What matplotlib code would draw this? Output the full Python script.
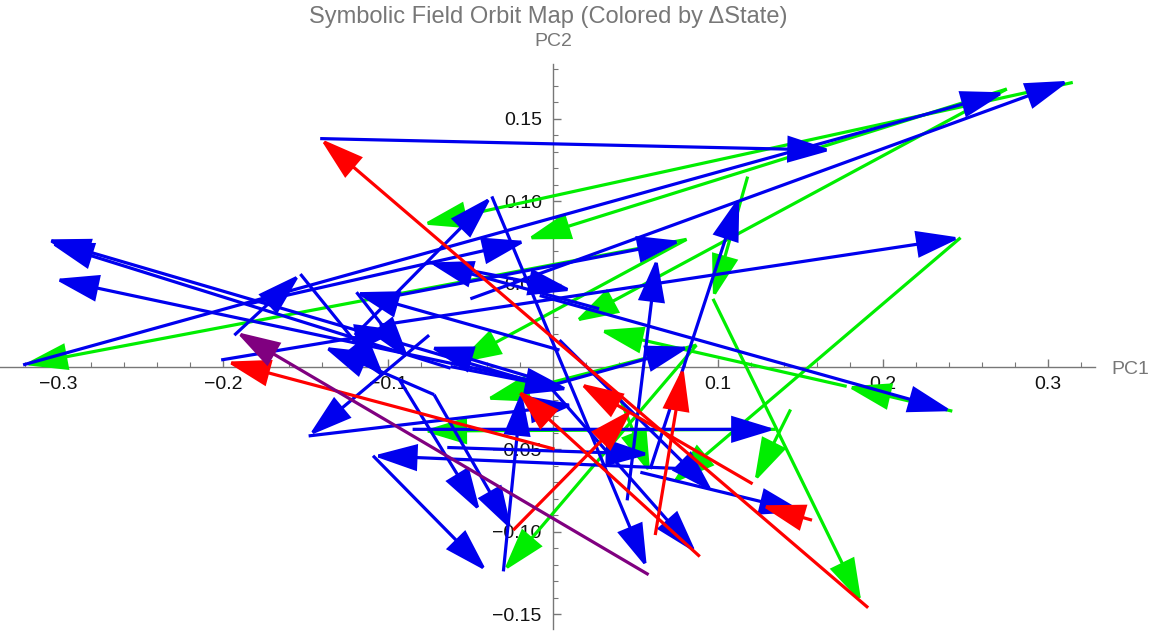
import matplotlib
matplotlib.use("Agg")
import matplotlib.pyplot as plt
import numpy as np
from matplotlib.patches import FancyArrowPatch
from matplotlib.ticker import FixedLocator

# ---------------- data (PC1, PC2 start -> end) ----------------
blue_x0 = [-0.141, -0.321, -0.050, -0.105, -0.184, -0.105, 0.045, 0.059, -0.037, -0.120,
           -0.193, -0.153, -0.020, -0.062, 0.004, -0.201, -0.075, -0.148, 0.083, -0.109,
           -0.093, -0.072, -0.030, -0.085, -0.064, 0.053, 0.028, -0.075, -0.008, -0.014,
           0.004, -0.008, -0.072, -0.003, 0.004, -0.062, -0.119]
blue_y0 = [0.138, 0.001, 0.041, 0.025, 0.038, 0.041, -0.081, -0.062, 0.103, 0.019,
           0.019, 0.056, -0.007, -0.001, -0.012, 0.004, 0.019, -0.042, -0.062, -0.054,
           -0.008, -0.017, -0.124, -0.038, -0.049, -0.064, 0.035, 0.063, 0.043, -0.015,
           0.010, -0.008, -0.017, -0.011, 0.016, 0.000, 0.045]
blue_x1 = [0.169, 0.274, 0.313, 0.247, -0.016, 0.078, 0.063, 0.113, 0.057, -0.037,
           -0.153, -0.102, -0.307, -0.305, -0.302, -0.093, -0.148, 0.013, -0.109, -0.040,
           -0.044, -0.025, -0.019, 0.135, 0.059, 0.152, -0.075, 0.012, 0.242, 0.083,
           -0.120, -0.075, -0.139, 0.087, 0.097, 0.010, -0.087]
blue_y1 = [0.131, 0.166, 0.173, 0.078, 0.076, 0.076, 0.066, 0.103, -0.122, 0.103,
           0.056, -0.007, 0.077, 0.075, 0.053, 0.022, -0.042, -0.023, -0.054, -0.124,
           -0.088, -0.099, -0.015, -0.038, -0.053, -0.088, 0.063, 0.046, -0.027, 0.012,
           0.045, 0.012, 0.012, -0.113, -0.076, -0.014, 0.004]

green_x0 = [0.315, 0.275, 0.118, 0.097, 0.247, 0.081, 0.275, 0.242, 0.178, 0.087,
            0.135, 0.041, 0.144, 0.087, 0.081]
green_y0 = [0.172, 0.168, 0.115, 0.041, 0.078, 0.077, 0.168, -0.027, -0.012, 0.013,
            -0.038, -0.020, -0.026, 0.013, 0.077]
green_x1 = [-0.079, -0.016, 0.097, 0.187, 0.072, -0.321, 0.013, 0.178, 0.028, -0.030,
            -0.079, 0.059, 0.122, -0.041, -0.058]
green_y1 = [0.086, 0.077, 0.041, -0.143, -0.071, 0.001, 0.027, -0.012, 0.022, -0.124,
            -0.039, -0.065, -0.070, -0.020, 0.002]

red_x0 = [0.191, 0.089, 0.121, 0.062, -0.024, 0.001, 0.157]
red_y0 = [-0.146, -0.115, -0.071, -0.102, -0.099, -0.050, -0.093]
red_x1 = [-0.141, -0.022, 0.016, 0.079, 0.048, -0.198, 0.126]
red_y1 = [0.138, -0.014, -0.010, 0.000, -0.026, 0.003, -0.084]

purple_x0 = [0.058]
purple_y0 = [-0.126]
purple_x1 = [-0.192]
purple_y1 = [0.021]

x_ticks = [-0.3, -0.2, -0.1, 0.1, 0.2, 0.3]
x_tick_labels = ["\u22120.3", "\u22120.2", "\u22120.1", "0.1", "0.2", "0.3"]
y_ticks = [-0.15, -0.10, -0.05, 0.05, 0.10, 0.15]
y_tick_labels = ["\u22120.15", "\u22120.10", "\u22120.05", "0.05", "0.10", "0.15"]

title = "Symbolic Field Orbit Map (Colored by \u0394State)"

# ---------------- figure ----------------
plt.rcParams['font.family'] = ['Liberation Sans', 'DejaVu Sans']
fig = plt.figure(figsize=(11.52, 6.33), dpi=100)
ax = fig.add_axes([0, 0, 1, 1])
ax.set_xlim(-0.335, 0.363)
ax.set_ylim(-0.1613, 0.2219)

axis_gray = "#777777"
for s in ["top", "right"]:
    ax.spines[s].set_visible(False)
ax.spines["left"].set_position(("data", 0))
ax.spines["bottom"].set_position(("data", 0))
ax.spines["left"].set_bounds(-0.159, 0.183)
ax.spines["bottom"].set_bounds(-0.335, 0.3285)
for s in ["left", "bottom"]:
    ax.spines[s].set_color(axis_gray)
    ax.spines[s].set_linewidth(1.0)
    ax.spines[s].set_zorder(0.5)

ax.xaxis.set_major_locator(FixedLocator(x_ticks))
ax.xaxis.set_ticklabels(x_tick_labels)
ax.yaxis.set_major_locator(FixedLocator(y_ticks))
ax.yaxis.set_ticklabels(y_tick_labels)
ax.xaxis.set_minor_locator(FixedLocator(np.round(np.arange(-0.32, 0.33, 0.02), 3)))
ax.yaxis.set_minor_locator(FixedLocator(np.round(np.arange(-0.15, 0.181, 0.01), 3)))
ax.tick_params(axis="both", which="major", direction="in", length=6, width=1,
               color=axis_gray, labelsize=14, labelcolor="#111111")
ax.tick_params(axis="both", which="minor", direction="in", length=3.5, width=0.8,
               color=axis_gray)
ax.tick_params(axis="x", pad=7)
ax.tick_params(axis="y", pad=8)

def draw(xs0, ys0, xs1, ys1, color, z):
    for a, b, c, d in zip(xs0, ys0, xs1, ys1):
        arr = FancyArrowPatch((a, b), (c, d),
                              arrowstyle="-|>,head_length=1.8,head_width=0.55",
                              mutation_scale=15, lw=2.3, color=color,
                              shrinkA=0, shrinkB=0, joinstyle="miter",
                              capstyle="butt", zorder=z)
        ax.add_patch(arr)

draw(blue_x0, blue_y0, blue_x1, blue_y1, "#0000ee", 3)
draw(green_x0, green_y0, green_x1, green_y1, "#00ee00", 2)
draw(red_x0, red_y0, red_x1, red_y1, "#ff0000", 4)
draw(purple_x0, purple_y0, purple_x1, purple_y1, "#800080", 4)

ax.text(0.3612, -0.002, "PC1", color=axis_gray, fontsize=14, va="center", ha="right")
ax.text(0.0, 0.197, "PC2", color=axis_gray, fontsize=14, va="center", ha="center")
fig.text(0.476, 0.973, title, color=axis_gray, fontsize=17, ha="center", va="center")

fig.savefig("out.png", dpi=100)
